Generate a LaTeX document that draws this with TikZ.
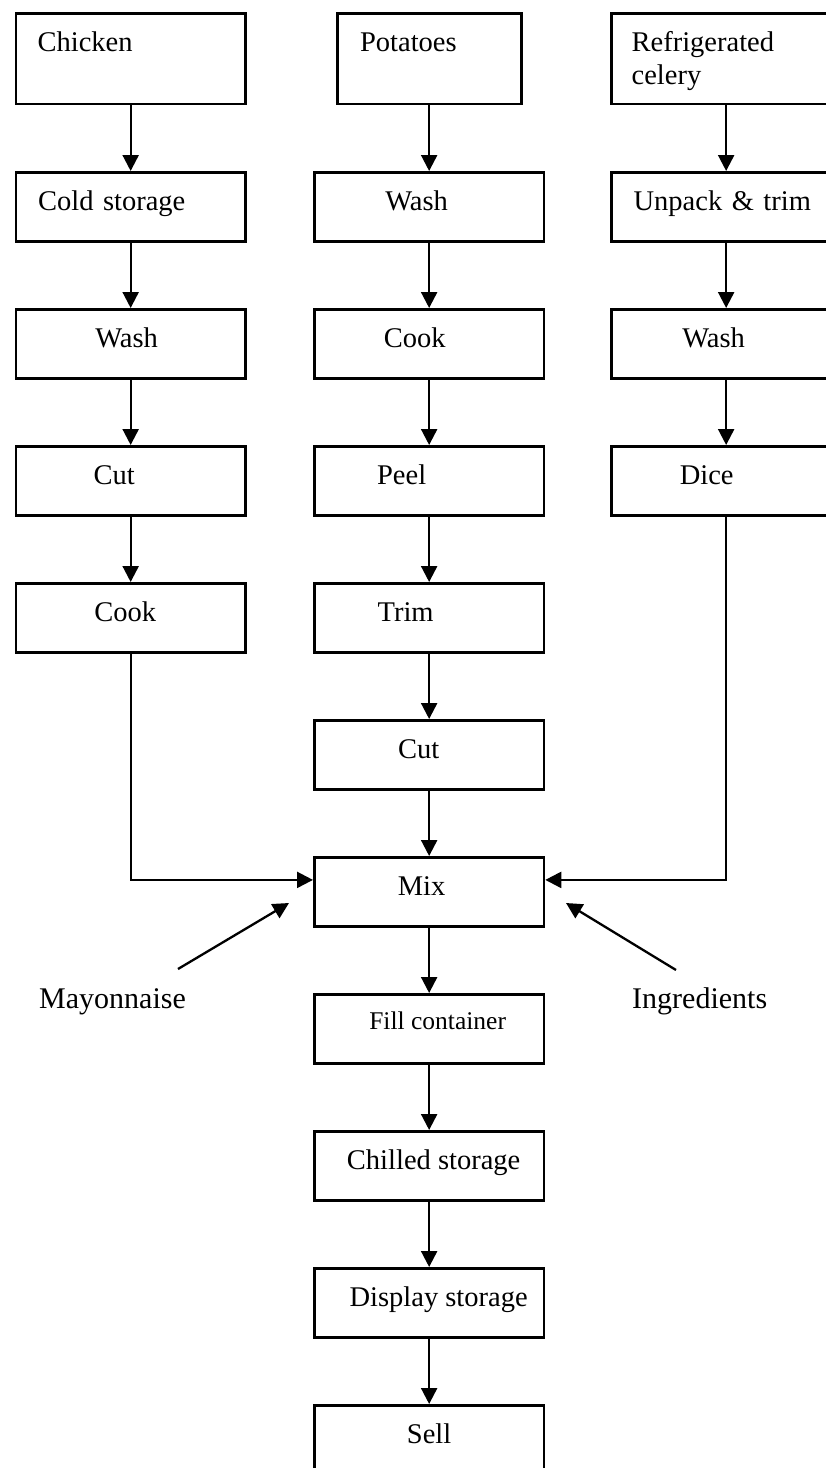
\documentclass[tikz,border=0pt]{standalone}
\usepackage{fontspec}
\setmainfont{Liberation Serif}
\usetikzlibrary{arrows.meta}
% move the printed text sideways inside its box without changing the box
\newcommand\nudge[2]{\kern#1pt#2\kern-#1pt}
\begin{document}
\begin{tikzpicture}[x=1pt,y=-1pt,
  box/.style={draw=black, line width=2.8pt, inner sep=0pt,
    minimum width=229.5pt, minimum height=69pt, anchor=north west,
    text height=20pt, text depth=12pt,
    font=\fontsize{28.5}{33}\selectfont},
  leftbox/.style={box, text width=#1, align=left},
  srcbox/.style={box, minimum height=90.5pt, text width=#1, align=left,
    text height=20pt, text depth=34.5pt},
  lbl/.style={inner sep=0pt, font=\fontsize{30}{34}\selectfont},
  arr/.style={draw=black, line width=2.3pt,
    -{Triangle[length=16pt,width=16pt]}}]
\useasboundingbox (0,0) rectangle (826,1468);
\clip (0,0) rectangle (826,1468);

% raw materials
\node[srcbox=186pt] (chicken) at (14.5,12) {Chicken};
\node[srcbox=138pt, minimum width=184pt] (potatoes) at (335.75,12) {Potatoes};
\node[srcbox=189pt] (celery) at (610,12) {Refrigerated\\celery};

% chicken line
\node[leftbox=185pt] (cold) at (14.5,171) {Cold storage};
\node[box] (wash1) at (14.5,308) {\nudge{-4}{Wash}};
\node[box] (cut1) at (14.5,445) {\nudge{-16.5}{Cut}};
\node[box] (cook1) at (14.5,582) {\nudge{-5.5}{Cook}};

% potato line
\node[box] (wash2) at (313,171) {\nudge{-12.5}{Wash}};
\node[box] (cook2) at (313,308) {\nudge{-14.5}{Cook}};
\node[box] (peel) at (313,445) {\nudge{-27.5}{Peel}};
\node[box] (trim) at (313,582) {\nudge{-23.5}{Trim}};
\node[box] (cut2) at (313,719) {\nudge{-10.5}{Cut}};

% celery line
\node[leftbox=185pt] (unpack) at (610,171) {Unpack \& trim};
\node[box] (wash3) at (610,308) {\nudge{-12.5}{Wash}};
\node[box] (dice) at (610,445) {\nudge{-19.5}{Dice}};

% common steps
\node[box] (mix) at (313,856) {\nudge{-7.5}{Mix}};
\node[box, text height=18pt, text depth=16pt,
  font=\fontsize{25.5}{30}\selectfont] (fill) at (313,993) {\nudge{8.5}{Fill container}};
\node[box] (chilled) at (313,1130) {\nudge{4.5}{Chilled storage}};
\node[box] (display) at (313,1267) {\nudge{9.5}{Display storage}};
\node[box] (sell) at (313,1404) {Sell};

% added ingredients
\node[lbl, anchor=base west] (mayo) at (39,1008) {Mayonnaise};
\node[lbl, anchor=base west] (ingr) at (632,1008) {Ingredients};
\coordinate (mayoTail) at (178,969);
\coordinate (mayoHead) at (289,903);
\coordinate (ingrTail) at (676,970);
\coordinate (ingrHead) at (566,903);

% flow arrows
\foreach \a/\b in {chicken/cold, cold/wash1, wash1/cut1, cut1/cook1,
    potatoes/wash2, wash2/cook2, cook2/peel, peel/trim, trim/cut2,
    cut2/mix, mix/fill, fill/chilled, chilled/display, display/sell,
    celery/unpack, unpack/wash3, wash3/dice}
  \draw[arr] (\a.south) -- (\a.south |- \b.north);
\draw[arr] (cook1.south) |- ([yshift=12pt]mix.west);
\draw[arr] (dice.south) |- ([yshift=12pt]mix.east);
\draw[arr] (mayoTail) -- (mayoHead);
\draw[arr] (ingrTail) -- (ingrHead);
\end{tikzpicture}
\end{document}
